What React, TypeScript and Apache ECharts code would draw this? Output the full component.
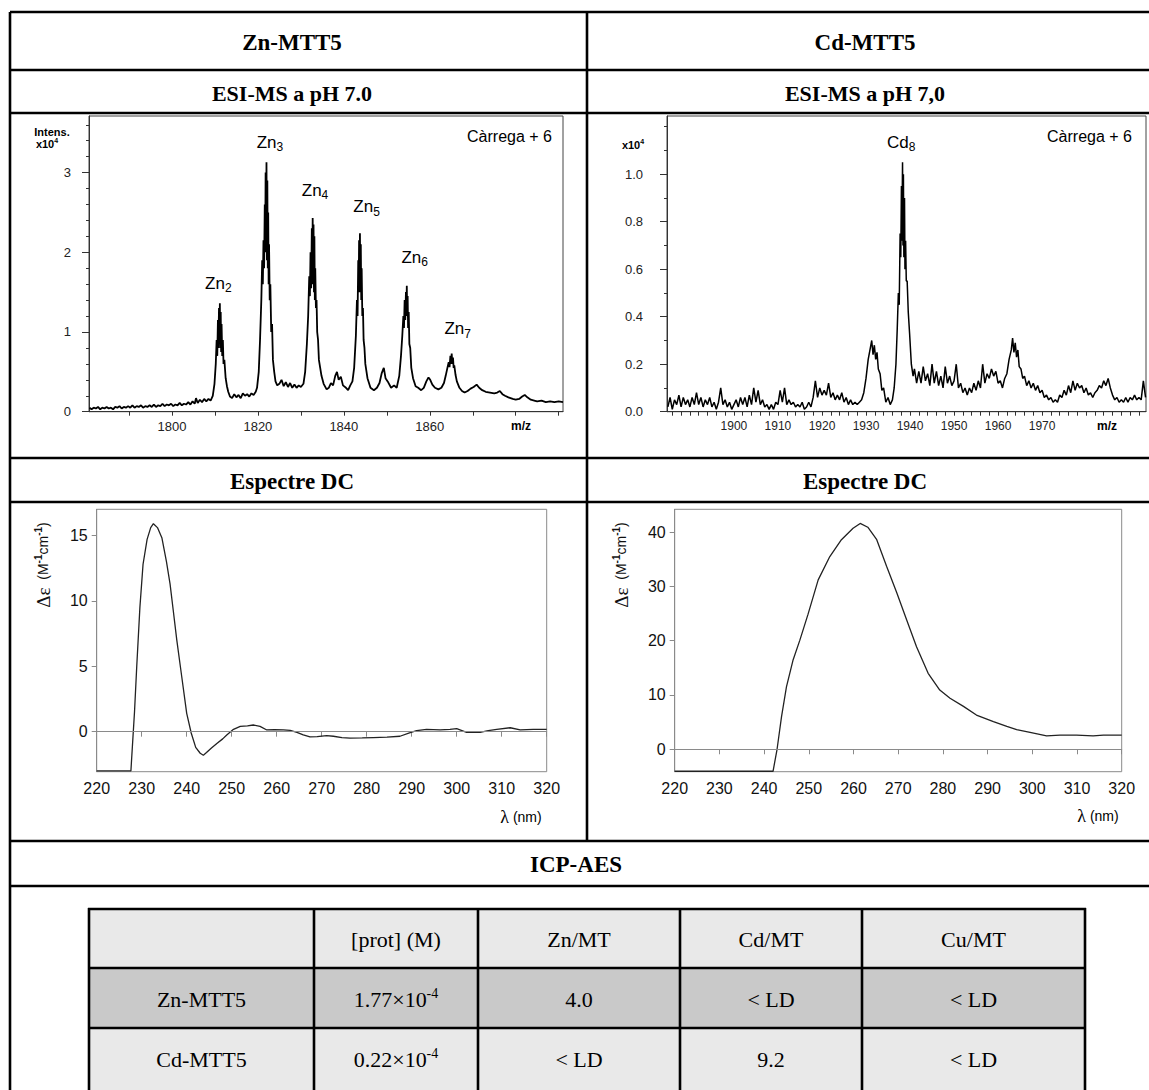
import React, { useEffect, useRef } from 'react';
import * as echarts from 'echarts';

// ---------------- DATA ----------------
// ESI-MS Zn-MTT5 (m/z, intensity x10^4)
const znEsi: [number, number][] = [
  [1780.8,0.05],[1781.3,0.03],[1781.8,0.05],[1782.3,0.04],[1782.8,0.06],[1783.3,0.03],[1783.8,0.05],[1784.3,0.04],
  [1784.8,0.06],[1785.3,0.04],[1785.8,0.05],[1786.3,0.03],[1786.8,0.06],[1787.3,0.05],[1787.8,0.07],[1788.3,0.04],
  [1788.8,0.06],[1789.3,0.05],[1789.8,0.07],[1790.3,0.05],[1790.8,0.08],[1791.3,0.05],[1791.8,0.07],[1792.3,0.06],
  [1792.8,0.08],[1793.3,0.05],[1793.8,0.07],[1794.3,0.06],[1794.8,0.08],[1795.3,0.06],[1795.8,0.09],[1796.3,0.06],
  [1796.8,0.08],[1797.3,0.07],[1797.8,0.1],[1798.3,0.07],[1798.8,0.09],[1799.3,0.08],[1799.8,0.1],[1800.3,0.07],
  [1800.8,0.09],[1801.3,0.08],[1801.8,0.11],[1802.3,0.08],[1802.8,0.1],[1803.3,0.09],[1803.8,0.12],[1804.3,0.09],
  [1804.8,0.13],[1805.3,0.1],[1805.6,0.17],[1806,0.11],[1806.5,0.15],[1807,0.12],[1807.5,0.16],[1808,0.13],
  [1808.5,0.16],[1809,0.14],[1809.5,0.2],
  [1809.9,0.35],[1810.2,0.6],[1810.4,0.9],[1810.55,0.7],[1810.7,1.15],[1810.8,0.8],[1810.95,1.3],[1811.05,0.85],
  [1811.15,1.36],[1811.25,0.8],[1811.35,1.25],[1811.45,0.75],[1811.55,1.1],[1811.7,0.7],[1811.85,0.9],[1812.0,0.6],
  [1812.2,0.65],[1812.5,0.42],[1812.8,0.32],[1813.1,0.25],[1813.5,0.19],
  [1814,0.17],[1814.5,0.22],[1815,0.18],[1815.5,0.21],[1816,0.17],[1816.5,0.23],[1817,0.2],[1817.5,0.22],
  [1818,0.19],[1818.5,0.23],[1819,0.21],[1819.5,0.25],
  [1819.8,0.3],[1820.2,0.5],[1820.5,0.9],[1820.8,1.4],[1821.0,1.9],[1821.15,1.6],[1821.3,2.15],[1821.45,1.8],
  [1821.6,2.6],[1821.7,2.0],[1821.8,3.0],[1821.9,2.1],[1822.0,3.13],[1822.1,1.9],[1822.2,2.9],[1822.3,1.8],
  [1822.4,2.5],[1822.5,1.6],[1822.6,2.1],[1822.75,1.4],[1822.9,1.6],[1823.1,1.0],[1823.3,1.1],[1823.5,0.65],
  [1823.8,0.5],[1824.1,0.38],[1824.5,0.33],
  [1825,0.35],[1825.5,0.4],[1826,0.32],[1826.5,0.37],[1827,0.31],[1827.5,0.36],[1828,0.3],[1828.5,0.34],
  [1829,0.3],[1829.5,0.33],[1830,0.31],
  [1830.6,0.35],[1831.0,0.5],[1831.4,0.85],[1831.7,1.2],[1831.95,1.7],[1832.1,1.45],[1832.25,2.0],[1832.4,1.55],
  [1832.55,2.3],[1832.65,1.6],[1832.75,2.43],[1832.85,1.6],[1832.95,2.35],[1833.05,1.5],[1833.15,2.2],[1833.25,1.4],
  [1833.35,1.8],[1833.5,1.3],[1833.65,1.4],[1833.8,1.0],[1834.0,0.9],[1834.2,0.65],[1834.5,0.55],[1834.8,0.45],
  [1835.3,0.35],[1836,0.28],[1836.5,0.3],[1837,0.36],[1837.5,0.33],[1838,0.45],[1838.4,0.5],[1838.8,0.4],
  [1839.3,0.44],[1839.8,0.33],[1840.5,0.3],[1841,0.27],[1841.5,0.33],[1842,0.38],
  [1842.4,0.55],[1842.8,0.95],[1843.05,1.4],[1843.2,1.2],[1843.35,1.9],[1843.45,1.5],[1843.55,2.15],[1843.65,1.6],
  [1843.75,2.24],[1843.85,1.5],[1843.95,2.1],[1844.05,1.4],[1844.15,1.8],[1844.3,1.2],[1844.45,1.3],[1844.6,0.9],
  [1844.8,0.8],[1845,0.6],[1845.5,0.42],[1846.2,0.3],[1847,0.27],[1847.7,0.3],
  [1848.3,0.36],[1848.8,0.48],[1849.3,0.55],[1849.7,0.42],[1850.2,0.38],[1851,0.3],[1851.7,0.33],[1852.3,0.3],
  [1852.9,0.45],
  [1853.3,0.7],[1853.6,0.95],[1853.85,1.2],[1854.0,1.05],[1854.15,1.4],[1854.3,1.15],[1854.45,1.5],[1854.55,1.2],
  [1854.65,1.58],[1854.75,1.2],[1854.85,1.45],[1854.95,1.05],[1855.1,1.25],[1855.25,0.85],[1855.45,0.8],[1855.7,0.55],
  [1856.1,0.42],[1856.7,0.32],[1857.3,0.3],[1858,0.27],[1858.6,0.3],[1859.2,0.38],
  [1859.7,0.43],[1860.1,0.4],[1860.6,0.34],[1861.2,0.3],[1862,0.28],[1862.7,0.3],[1863.3,0.36],
  [1863.7,0.45],[1864.1,0.55],[1864.4,0.62],[1864.6,0.56],[1864.8,0.7],[1864.95,0.6],[1865.1,0.73],[1865.25,0.6],
  [1865.4,0.68],[1865.55,0.55],[1865.7,0.58],[1866.0,0.46],[1866.3,0.38],[1866.9,0.3],[1867.5,0.26],[1868.1,0.24],
  [1868.8,0.26],[1869.5,0.29],[1870.2,0.31],[1870.9,0.34],
  [1871.5,0.3],[1872.2,0.27],[1873,0.25],[1874,0.24],[1875,0.23],[1875.7,0.24],[1876.3,0.26],[1876.9,0.22],
  [1877.5,0.2],[1878.3,0.18],[1879.3,0.16],[1880,0.15],[1880.8,0.16],[1881.5,0.19],[1882.1,0.21],[1882.7,0.18],
  [1883.5,0.15],[1884.3,0.14],[1885,0.13],[1886,0.14],[1887,0.12],[1888,0.13],[1889,0.12],[1890,0.13],[1891,0.12]
];

// ESI-MS Cd-MTT5 (m/z, intensity x10^4)
const cdEsi: [number, number][] = [
  [1885,0.02],[1885.5,0.06],[1886,0.01],[1886.5,0.05],[1887,0.03],[1887.5,0.07],[1888,0.02],[1888.5,0.06],
  [1889,0.03],[1889.5,0.05],[1890,0.02],[1890.5,0.06],[1891,0.03],[1891.5,0.08],[1892,0.03],[1892.5,0.06],
  [1893,0.02],[1893.5,0.05],[1894,0.03],[1894.5,0.06],[1895,0.02],[1895.5,0.04],[1896,0.01],[1896.5,0.04],
  [1897,0.1],[1897.5,0.03],[1898,0.05],[1898.5,0.02],[1899,0.04],[1899.5,0.01],[1900,0.03],[1900.5,0.05],
  [1901,0.02],[1901.5,0.06],[1902,0.03],[1902.5,0.06],[1903,0.02],[1903.5,0.07],[1904,0.03],[1904.5,0.1],
  [1905,0.04],[1905.5,0.09],[1906,0.03],[1906.5,0.05],[1907,0.02],[1907.5,0.03],[1908,0.01],[1908.5,0.03],
  [1909,0.01],[1909.5,0.04],[1910,0.03],[1910.5,0.09],[1911,0.04],[1911.5,0.1],[1912,0.03],[1912.5,0.05],
  [1913,0.03],[1913.5,0.04],[1914,0.02],[1914.5,0.03],[1915,0.02],[1915.5,0.04],[1916,0.01],[1916.5,0.02],
  [1917,0.04],[1917.5,0.02],[1918,0.06],[1918.5,0.13],[1919,0.06],[1919.5,0.1],[1920,0.07],[1920.5,0.09],
  [1921,0.07],[1921.5,0.12],[1922,0.06],[1922.5,0.08],[1923,0.05],[1923.5,0.07],[1924,0.05],[1924.5,0.08],
  [1925,0.04],[1925.5,0.06],[1926,0.03],[1926.5,0.05],[1927,0.03],[1927.5,0.04],[1928,0.03],[1928.5,0.04],
  [1929,0.05],[1929.5,0.08],[1930,0.14],[1930.5,0.22],[1931,0.27],[1931.3,0.3],[1931.6,0.24],[1931.9,0.28],
  [1932.2,0.22],[1932.5,0.25],[1932.8,0.18],[1933.2,0.16],[1933.6,0.09],[1934,0.1],[1934.5,0.04],[1935,0.06],
  [1935.5,0.03],[1936,0.05],[1936.4,0.1],[1936.8,0.2],[1937.1,0.35],[1937.35,0.5],[1937.55,0.45],[1937.75,0.75],
  [1937.9,0.65],[1938.05,0.95],[1938.15,0.72],[1938.3,1.05],[1938.4,0.7],[1938.5,1.0],[1938.6,0.65],[1938.75,0.9],
  [1938.85,0.6],[1939,0.72],[1939.15,0.55],[1939.35,0.55],[1939.6,0.42],[1939.9,0.33],[1940.3,0.2],[1940.7,0.15],
  [1941,0.18],[1941.5,0.12],[1942,0.17],[1942.5,0.12],[1943,0.19],
  [1943.5,0.13],[1944,0.16],[1944.5,0.11],[1945,0.2],[1945.5,0.12],[1946,0.17],[1946.5,0.11],[1947,0.15],
  [1947.5,0.1],[1948,0.19],[1948.5,0.12],[1949,0.15],[1949.5,0.11],[1950,0.13],[1950.5,0.2],[1951,0.1],
  [1951.5,0.12],[1952,0.08],[1952.5,0.1],[1953,0.07],[1953.5,0.1],[1954,0.08],[1954.5,0.12],[1955,0.09],
  [1955.5,0.13],[1956,0.1],[1956.5,0.2],[1957,0.12],[1957.5,0.16],[1958,0.14],[1958.5,0.18],[1959,0.15],
  [1959.5,0.17],[1960,0.12],[1960.5,0.13],[1961,0.1],[1961.5,0.14],[1962,0.16],[1962.5,0.22],[1963,0.26],
  [1963.3,0.31],[1963.6,0.25],[1963.9,0.29],[1964.2,0.23],[1964.5,0.26],[1964.8,0.19],[1965.2,0.18],[1965.6,0.14],
  [1966,0.15],[1966.5,0.11],[1967,0.13],[1967.5,0.1],[1968,0.12],[1968.5,0.09],[1969,0.11],[1969.5,0.08],
  [1970,0.09],[1970.5,0.06],[1971,0.07],[1971.5,0.05],[1972,0.06],[1972.5,0.04],[1973,0.05],[1973.5,0.04],
  [1974,0.07],[1974.5,0.06],[1975,0.09],[1975.5,0.07],[1976,0.11],[1976.5,0.08],[1977,0.13],[1977.5,0.09],
  [1978,0.12],[1978.5,0.1],[1979,0.11],[1979.5,0.08],[1980,0.1],[1980.5,0.07],[1981,0.08],[1981.5,0.06],
  [1982,0.08],[1982.5,0.09],[1983,0.11],[1983.5,0.1],[1984,0.13],[1984.5,0.11],[1985,0.14],[1985.5,0.1],
  [1986,0.07],[1986.5,0.05],[1987,0.06],[1987.5,0.04],[1988,0.05],[1988.5,0.04],[1989,0.06],[1989.5,0.04],
  [1990,0.06],[1990.5,0.05],[1991,0.07],[1991.5,0.05],[1992,0.06],[1992.5,0.05],[1993,0.13],[1993.5,0.06]
];

// CD spectra (lambda nm, delta epsilon)
const znCd: [number, number][] = [
  [220,-3.0],[227.6,-3.0],[228.4,1.5],[228.9,5],[229.6,9.5],[230.3,12.8],[231.2,14.7],[232,15.6],[232.6,15.9],
  [233.5,15.6],[234.5,14.8],[235.5,13.0],[236.3,11.3],[237,9.3],[237.8,7.0],[238.9,4.2],[240,1.4],[241,-0.1],
  [242,-1.2],[243,-1.65],[243.7,-1.8],[244.4,-1.6],[245.5,-1.25],[246.7,-0.9],[248,-0.55],[248.9,-0.25],
  [250.4,0.18],[251.9,0.4],[253.5,0.45],[254.8,0.51],[256.3,0.4],[257.8,0.13],[259.5,0.15],[261.5,0.13],
  [263,0.1],[264.5,-0.05],[265.9,-0.25],[267.4,-0.4],[269,-0.38],[271.1,-0.3],[272.6,-0.35],[274.5,-0.45],
  [276.3,-0.5],[279,-0.48],[281.5,-0.45],[284.5,-0.42],[287.4,-0.35],[289.5,-0.1],[291.1,0.08],[293.3,0.18],
  [296.3,0.13],[298.5,0.18],[300,0.23],[302.2,-0.05],[305.2,-0.05],[307,0.08],[308.9,0.18],[311.9,0.3],
  [314.1,0.13],[317,0.18],[320,0.18]
];
const cdCd: [number, number][] = [
  [220,-4.05],[242.0,-4.05],[242.9,0],[243.9,6.0],[245.0,11.5],[246.5,16.5],[248.0,20.1],[249.8,24.8],
  [252.1,31.2],[254.7,35.5],[257.3,38.6],[259.9,40.7],[261.5,41.6],[263.2,40.9],[265.2,38.6],[267.4,33.7],
  [269.7,28.8],[271.9,23.8],[274.1,18.9],[276.7,14.0],[279.3,10.9],[281.6,9.4],[284.6,7.9],[287.5,6.3],
  [291.3,5.1],[294.3,4.2],[296.5,3.6],[299.5,3.1],[303.2,2.45],[306.2,2.6],[309.9,2.6],[313.6,2.45],
  [315.9,2.6],[320,2.6]
];

// Peak annotations (ion index, m/z, label height)
const znPeakIons = ['2', '3', '4', '5', '6', '7'];
const znPeakMz = [1810.8, 1822.8, 1833.3, 1845.3, 1856.5, 1866.5];
const znPeakLabelI = [1.61, 3.38, 2.78, 2.57, 1.94, 1.04];
const cdPeakIons = ['8'];
const cdPeakMz = [1938.0];
const cdPeakLabelI = [1.135];

// Ticks
const znEsiXTicks = [1790, 1800, 1810, 1820, 1830, 1840, 1850, 1860, 1870, 1880, 1890];
const znEsiXLabels = [1800, 1820, 1840, 1860];
const znEsiYLabels = [0, 1, 2, 3];
const znEsiYMinor = [0.2, 0.4, 0.6, 0.8, 1.2, 1.4, 1.6, 1.8, 2.2, 2.4, 2.6, 2.8, 3.2, 3.4, 3.6];
const cdEsiXTicks = [1886, 1888, 1890, 1892, 1894, 1896, 1898, 1900, 1902, 1904, 1906, 1908, 1910, 1912, 1914,
  1916, 1918, 1920, 1922, 1924, 1926, 1928, 1930, 1932, 1934, 1936, 1938, 1940, 1942, 1944, 1946, 1948, 1950,
  1952, 1954, 1956, 1958, 1960, 1962, 1964, 1966, 1968, 1970, 1972, 1974, 1976, 1978, 1980, 1982, 1984, 1986,
  1988, 1990, 1992];
const cdEsiXLabels = [1900, 1910, 1920, 1930, 1940, 1950, 1960, 1970];
const cdEsiYLabels = [0, 0.2, 0.4, 0.6, 0.8, 1.0];
const cdEsiYMinor = [0.1, 0.3, 0.5, 0.7, 0.9, 1.1, 1.2];
const znCdYLabels = [0, 5, 10, 15];
const cdCdYLabels = [0, 10, 20, 30, 40];

// ICP-AES table
const tableHeader = ['', '[prot] (M)', 'Zn/MT', 'Cd/MT', 'Cu/MT'];
const rowNames = ['Zn-MTT5', 'Cd-MTT5'];
const protMantissa = ['1.77', '0.22'];
const protExponent = '-4';
const znPerMT = ['4.0', '< LD'];
const cdPerMT = ['< LD', '9.2'];
const cuPerMT = ['< LD', '< LD'];

// ---------------- STYLE ----------------
const SANS = 'Liberation Sans, Arial, sans-serif';
const SERIF = 'Liberation Serif, Times New Roman, serif';

function buildOption() {
  const esiAxisColor = '#333';
  const cdAxisColor = '#8a8a8a';

  const esiX = (grid: number, min: number, max: number, ticks: number[], labels: number[], fs: number) => ({
    gridIndex: grid, type: 'value', min, max,
    axisLine: { show: true, lineStyle: { color: esiAxisColor, width: 1 } },
    axisTick: { show: true, customValues: ticks, length: 4, lineStyle: { color: esiAxisColor } },
    axisLabel: { customValues: labels, fontSize: fs, color: '#222', fontFamily: SANS, margin: 8, formatter: (v: number) => String(v) },
    splitLine: { show: false },
  });
  const esiYMajor = (grid: number, max: number, labels: number[], margin: number, fmt: (v: number) => string) => ({
    gridIndex: grid, type: 'value', min: 0, max, position: 'left',
    axisLine: { show: true, lineStyle: { color: esiAxisColor, width: 1 } },
    axisTick: { show: true, customValues: labels, length: 7, lineStyle: { color: esiAxisColor } },
    axisLabel: { customValues: labels, fontSize: 13, color: '#222', fontFamily: SANS, margin, formatter: fmt },
    splitLine: { show: false },
  });
  const esiYMinor = (grid: number, max: number, ticks: number[]) => ({
    gridIndex: grid, type: 'value', min: 0, max, position: 'left',
    axisLine: { show: false },
    axisTick: { show: true, customValues: ticks, length: 3, lineStyle: { color: esiAxisColor } },
    axisLabel: { show: false },
    splitLine: { show: false },
  });
  const cdX = (grid: number) => ({
    gridIndex: grid, type: 'value', min: 220, max: 320, interval: 10,
    axisLine: { show: true, lineStyle: { color: cdAxisColor, width: 1 } },
    axisTick: { show: true, length: 5, lineStyle: { color: cdAxisColor } },
    axisLabel: { fontSize: 16, color: '#111', fontFamily: SANS, margin: 9 },
    splitLine: { show: false },
  });
  const cdY = (grid: number, min: number, max: number, labels: number[]) => ({
    gridIndex: grid, type: 'value', min, max,
    axisLine: { show: true, lineStyle: { color: cdAxisColor, width: 1 } },
    axisTick: { show: true, customValues: labels, length: 5, lineStyle: { color: cdAxisColor } },
    axisLabel: { customValues: labels, fontSize: 16, color: '#111', fontFamily: SANS, margin: 9 },
    splitLine: { show: false },
  });

  const peakRich = {
    a: { fontSize: 17, fontFamily: SANS, color: '#000', lineHeight: 22, verticalAlign: 'middle' },
    s: { fontSize: 12, fontFamily: SANS, color: '#000', lineHeight: 12, verticalAlign: 'bottom' },
  };
  const peakSeries = (xi: number, yi: number, el: string, ions: string[], mz: number[], ys: number[]) => ({
    type: 'scatter', xAxisIndex: xi, yAxisIndex: yi, symbolSize: 1,
    itemStyle: { color: 'rgba(0,0,0,0)' }, silent: true, z: 5,
    data: ions.map((ion, i) => ({ value: [mz[i], ys[i]], ion })),
    label: {
      show: true, position: 'inside', color: '#000', opacity: 1,
      formatter: (p: any) => `{a|${el}}{s|${p.data.ion}}`,
      rich: peakRich,
    },
  });
  const zeroLine = {
    silent: true, symbol: ['none', 'none'], label: { show: false },
    lineStyle: { color: '#8a8a8a', type: 'solid', width: 1 },
    data: [{ yAxis: 0 }],
  };

  // ---------- graphic (table frame, titles, axis captions) ----------
  const els: any[] = [];
  const LW = 2.6;
  const hLine = (y: number, x1: number, x2: number) =>
    els.push({ type: 'line', shape: { x1, y1: y, x2, y2: y }, style: { stroke: '#000', lineWidth: LW }, z: 10 });
  const vLine = (x: number, y1: number, y2: number) =>
    els.push({ type: 'line', shape: { x1: x, y1, x2: x, y2 }, style: { stroke: '#000', lineWidth: LW }, z: 10 });
  const text = (x: number, y: number, t: string, font: any, extra: any = {}) =>
    els.push({ type: 'text', x, y, z: 11, style: { text: t, fill: '#000', align: 'center', verticalAlign: 'middle', ...font }, ...extra });

  // outer frame
  [12, 70, 113, 458, 502, 841, 886].forEach((y) => hLine(y, 10, 1149));
  vLine(10, 12, 1090);
  vLine(587, 12, 841);

  const titleFont = { fontFamily: SERIF, fontWeight: 'bold', fontSize: 23 };
  const subTitleFont = { fontFamily: SERIF, fontWeight: 'bold', fontSize: 22 };
  text(292, 42, 'Zn-MTT5', titleFont);
  text(865, 42, 'Cd-MTT5', titleFont);
  text(292, 93, 'ESI-MS a pH 7.0', subTitleFont);
  text(865, 93, 'ESI-MS a pH 7,0', subTitleFont);
  text(292, 481, 'Espectre DC', titleFont);
  text(865, 481, 'Espectre DC', titleFont);
  text(576, 864, 'ICP-AES', titleFont);

  // ESI captions
  const capFont = { fontFamily: SANS, fontSize: 16, fill: '#000' };
  text(552, 136, 'Càrrega + 6', { ...capFont, align: 'right' });
  text(1132, 136, 'Càrrega + 6', { ...capFont, align: 'right' });
  text(52, 132, 'Intens.', { fontFamily: SANS, fontSize: 11, fontWeight: 'bold' });
  const x10Rich = {
    a: { fontFamily: SANS, fontSize: 11, fontWeight: 'bold', lineHeight: 14, verticalAlign: 'middle' },
    s: { fontFamily: SANS, fontSize: 7, fontWeight: 'bold', lineHeight: 7, verticalAlign: 'top' },
  };
  els.push({ type: 'text', x: 47, y: 144, z: 11, style: { text: '{a|x10}{s|4}', rich: x10Rich, align: 'center', verticalAlign: 'middle' } });
  els.push({ type: 'text', x: 633, y: 145, z: 11, style: { text: '{a|x10}{s|4}', rich: x10Rich, align: 'center', verticalAlign: 'middle' } });
  text(521, 426, 'm/z', { fontFamily: SANS, fontSize: 12, fontWeight: 'bold' });
  text(1107, 426, 'm/z', { fontFamily: SANS, fontSize: 12, fontWeight: 'bold' });

  // CD captions
  const lamRich = {
    l: { fontFamily: SERIF, fontSize: 18, lineHeight: 18, verticalAlign: 'middle' },
    a: { fontFamily: SANS, fontSize: 14, lineHeight: 18, verticalAlign: 'middle' },
  };
  els.push({ type: 'text', x: 521, y: 817, z: 11, style: { text: '{l|λ}{a| (nm)}', rich: lamRich, align: 'center', verticalAlign: 'middle' } });
  els.push({ type: 'text', x: 1098, y: 816, z: 11, style: { text: '{l|λ}{a| (nm)}', rich: lamRich, align: 'center', verticalAlign: 'middle' } });
  const deRich = {
    g: { fontFamily: SERIF, fontSize: 19, lineHeight: 20, verticalAlign: 'middle', fill: '#111' },
    a: { fontFamily: SANS, fontSize: 14, lineHeight: 20, verticalAlign: 'middle', fill: '#111' },
    s: { fontFamily: SANS, fontSize: 10, lineHeight: 10, verticalAlign: 'top', fill: '#111', fontWeight: 'bold' },
  };
  const deText = '{g|Δε}{a|  (M}{s|-1}{a|cm}{s|-1}{a|)}';
  els.push({ type: 'text', x: 43, y: 565, rotation: Math.PI / 2, z: 11, style: { text: deText, rich: deRich, align: 'center', verticalAlign: 'middle' } });
  els.push({ type: 'text', x: 621, y: 565, rotation: Math.PI / 2, z: 11, style: { text: deText, rich: deRich, align: 'center', verticalAlign: 'middle' } });

  // ICP-AES table
  const cols = [89, 314, 478, 680, 862, 1085];
  const rows = [909, 968, 1028, 1092];
  const fills = ['#e9e9e9', '#c9c9c9', '#e9e9e9'];
  fills.forEach((f, r) => {
    els.push({ type: 'rect', shape: { x: cols[0], y: rows[r], width: cols[5] - cols[0], height: rows[r + 1] - rows[r] }, style: { fill: f }, z: 9 });
  });
  rows.forEach((y) => hLine(y, cols[0] - 1, cols[5] + 1));
  cols.forEach((x) => vLine(x, rows[0] - 1, 1092));
  const cellFont = { fontFamily: SERIF, fontSize: 22 };
  const cx = (c: number) => (cols[c] + cols[c + 1]) / 2;
  const cyOf = [938.5, 998.5, 1058.5];
  tableHeader.forEach((h, c) => { if (h) text(cx(c), cyOf[0] + 1, h, cellFont); });
  const supRich = {
    a: { fontFamily: SERIF, fontSize: 22, lineHeight: 26, verticalAlign: 'middle' },
    s: { fontFamily: SERIF, fontSize: 14, lineHeight: 14, verticalAlign: 'top' },
  };
  rowNames.forEach((name, r) => {
    const y = cyOf[r + 1] + 1;
    text(cx(0), y, name, cellFont);
    els.push({ type: 'text', x: cx(1), y, z: 11, style: { text: `{a|${protMantissa[r]}×10}{s|${protExponent}}`, rich: supRich, align: 'center', verticalAlign: 'middle' } });
    text(cx(2), y, znPerMT[r], cellFont);
    text(cx(3), y, cdPerMT[r], cellFont);
    text(cx(4), y, cuPerMT[r], cellFont);
  });

  return {
    animation: false,
    backgroundColor: '#ffffff',
    grid: [
      { left: 89, top: 116, width: 474, height: 295.7, show: true, borderColor: '#444', borderWidth: 1, backgroundColor: 'transparent' },
      { left: 667, top: 116, width: 479, height: 295.7, show: true, borderColor: '#444', borderWidth: 1, backgroundColor: 'transparent' },
      { left: 96.7, top: 509.3, width: 450, height: 262.4, show: true, borderColor: '#8a8a8a', borderWidth: 1, backgroundColor: 'transparent' },
      { left: 674.7, top: 509.3, width: 447, height: 262.4, show: true, borderColor: '#8a8a8a', borderWidth: 1, backgroundColor: 'transparent' },
    ],
    xAxis: [
      esiX(0, 1780.7, 1891, znEsiXTicks, znEsiXLabels, 13),
      esiX(1, 1884.8, 1993.6, cdEsiXTicks, cdEsiXLabels, 12),
      cdX(2),
      cdX(3),
    ],
    yAxis: [
      esiYMajor(0, 3.71, znEsiYLabels, 18, (v: number) => String(v)),
      esiYMinor(0, 3.71, znEsiYMinor),
      esiYMajor(1, 1.245, cdEsiYLabels, 24, (v: number) => v.toFixed(1)),
      esiYMinor(1, 1.245, cdEsiYMinor),
      cdY(2, -3.06, 17, znCdYLabels),
      cdY(3, -4.13, 44.2, cdCdYLabels),
    ],
    series: [
      { type: 'line', xAxisIndex: 0, yAxisIndex: 0, data: znEsi, showSymbol: false, symbol: 'none', lineStyle: { color: '#000', width: 1.8 }, z: 3 },
      peakSeries(0, 0, 'Zn', znPeakIons, znPeakMz, znPeakLabelI),
      { type: 'line', xAxisIndex: 1, yAxisIndex: 2, data: cdEsi, showSymbol: false, symbol: 'none', lineStyle: { color: '#000', width: 1.5 }, z: 3 },
      peakSeries(1, 2, 'Cd', cdPeakIons, cdPeakMz, cdPeakLabelI),
      { type: 'line', xAxisIndex: 2, yAxisIndex: 4, data: znCd, showSymbol: false, symbol: 'none', lineStyle: { color: '#222', width: 1.3 }, markLine: zeroLine, z: 3 },
      { type: 'line', xAxisIndex: 3, yAxisIndex: 5, data: cdCd, showSymbol: false, symbol: 'none', lineStyle: { color: '#222', width: 1.3 }, markLine: zeroLine, z: 3 },
    ],
    graphic: { elements: els },
  };
}

export default function App() {
  const ref = useRef<HTMLDivElement>(null);
  useEffect(() => {
    if (!ref.current) return;
    const chart = echarts.init(ref.current, null, { renderer: 'svg' });
    chart.setOption(buildOption() as any);
    return () => chart.dispose();
  }, []);
  return (
    <div
      ref={ref}
      style={{ position: 'absolute', left: 0, top: 0, width: 1149, height: 1090, background: '#fff' }}
    />
  );
}
